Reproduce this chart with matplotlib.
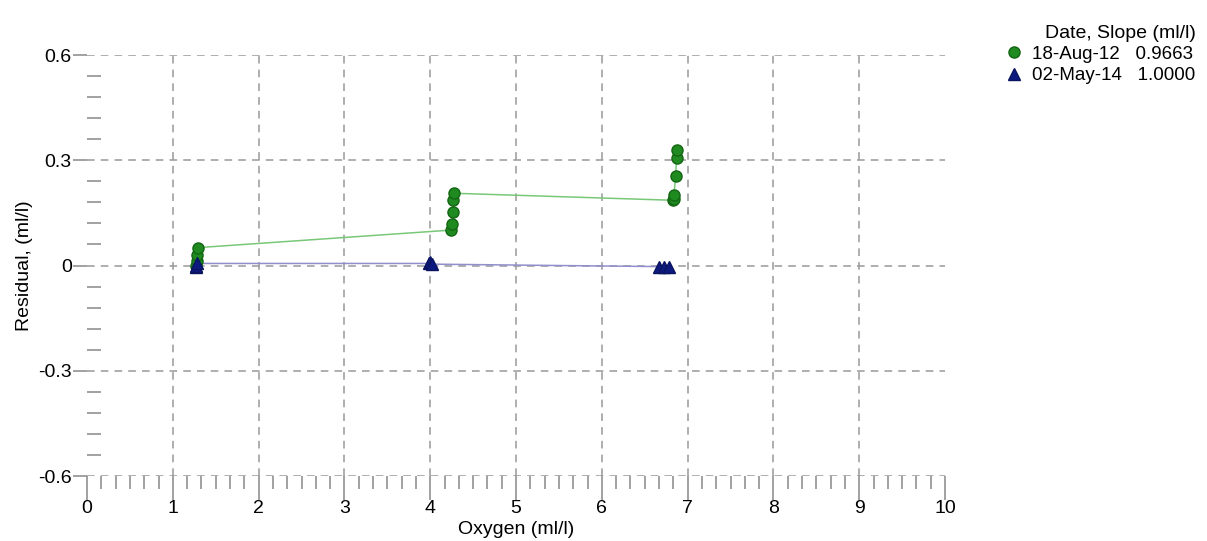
import numpy as np
import matplotlib.pyplot as plt
from matplotlib.ticker import AutoMinorLocator

plt.rcParams['font.family'] = ['Liberation Sans', 'DejaVu Sans']

# 18-Aug-12 residuals
x_aug = [1.27, 1.28, 1.28, 1.29, 4.24, 4.25, 4.27, 4.27, 4.28,
         6.83, 6.84, 6.84, 6.86, 6.87, 6.88]
y_aug = [0.0, 0.012, 0.031, 0.051, 0.101, 0.118, 0.154, 0.188, 0.206,
         0.186, 0.191, 0.202, 0.254, 0.307, 0.33]
# 02-May-14 residuals
x_may = [1.27, 1.27, 1.28, 3.98, 4.0, 4.02, 6.67, 6.72, 6.78]
y_may = [-0.004, 0.0, 0.006, 0.006, 0.009, 0.004, -0.003, -0.004, -0.004]

labels = ['18-Aug-12   0.9663', '02-May-14   1.0000']
xticks = np.arange(0, 11, 1)
yticks = [-0.6, -0.3, 0, 0.3, 0.6]
ytick_labels = ['-0.6', '-0.3', '0', '0.3', '0.6']

fs = 14

fig = plt.figure(figsize=(12.07, 5.41), dpi=100)
ax = fig.add_axes([0.0721, 0.12, 0.7109, 0.7783])

# grid drawn by hand (no lines at x=0 and x=10)
for xv in xticks[1:-1]:
    ax.axvline(xv, color='#999999', ls=(0, (5, 4)), lw=1.1, zorder=0)
for yv in yticks:
    ax.axhline(yv, color='#999999', ls=(0, (5, 4)), lw=1.1, zorder=0)

ax.plot(x_aug, y_aug, '-', color='#78c878', lw=1.1, zorder=2)
ax.plot(x_may, y_may, '-', color='#9090cc', lw=1.1, zorder=2)
ax.plot(x_aug, y_aug, 'o', color='#1f8a1f', mec='#146614', ms=8, zorder=3,
        label=labels[0])
ax.plot(x_may, y_may, '^', color='#0c1a80', mec='#0a145e', ms=8, zorder=3,
        label=labels[1])

ax.set_xlim(0, 10)
ax.set_ylim(-0.6, 0.6)
ax.set_xticks(xticks)
ax.set_yticks(yticks)
ax.set_yticklabels(ytick_labels)
ax.xaxis.set_minor_locator(AutoMinorLocator(6))
ax.yaxis.set_minor_locator(AutoMinorLocator(5))
for s in ax.spines.values():
    s.set_visible(False)
ax.tick_params(axis='x', which='major', direction='out', length=17, width=1.1,
               color='#888888', labelsize=fs, pad=0)
ax.tick_params(axis='x', which='minor', direction='out', length=9, width=1.1,
               color='#888888')
ax.tick_params(axis='y', which='major', direction='out', length=10, width=1.1,
               color='#888888', labelsize=fs, pad=1)
ax.tick_params(axis='y', which='minor', direction='in', length=10, width=1.1,
               color='#888888')

ax.set_xlabel('Oxygen (ml/l)', fontsize=fs, labelpad=3)
ax.set_ylabel('Residual, (ml/l)', fontsize=fs, labelpad=4)

leg = fig.legend(loc='upper right', bbox_to_anchor=(1.0, 0.975),
                 title='Date, Slope (ml/l)', frameon=False, fontsize=13.5,
                 title_fontsize=fs, handletextpad=0.5, handlelength=1.0,
                 borderaxespad=0.2, labelspacing=0.22)
leg._legend_box.align = 'right'

fig.savefig('out.png', dpi=100)
